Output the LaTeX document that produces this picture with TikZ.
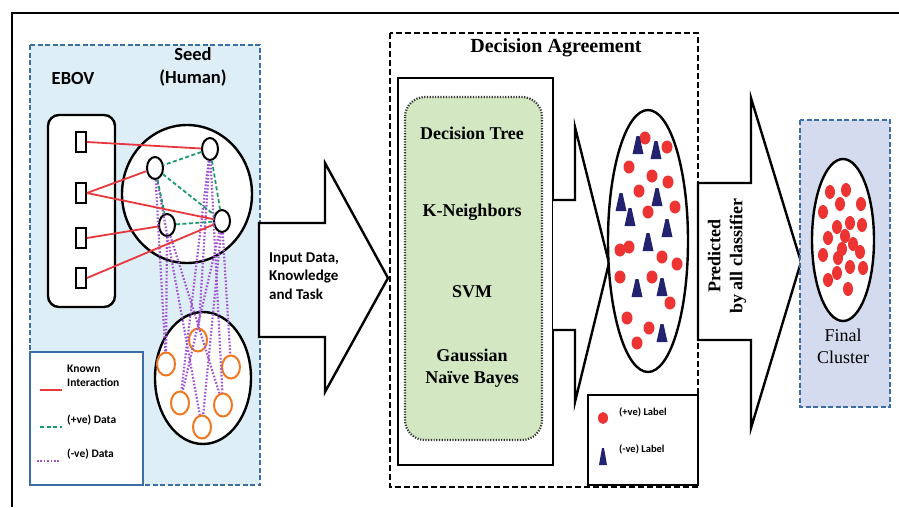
\documentclass[tikz,border=0pt]{standalone}
\usepackage{fontspec}
\setmainfont{Liberation Serif}
\newfontfamily\calfont{Carlito}
\usetikzlibrary{shapes.geometric}
\definecolor{bluefill}{HTML}{DDEEF6}
\definecolor{blueedge}{HTML}{3A6EA5}
\definecolor{finalfill}{HTML}{D4DBEE}
\definecolor{greenfill}{HTML}{D2E7C2}
\definecolor{redline}{HTML}{E8383D}
\definecolor{greenline}{HTML}{1A9A6A}
\definecolor{purpline}{HTML}{A052D0}
\definecolor{orangec}{HTML}{F07820}
\definecolor{reddot}{HTML}{EE3333}
\definecolor{navytri}{HTML}{22226E}
\begin{document}
\begin{tikzpicture}[x=1pt,y=-1pt,
  blk/.style={draw=black,line width=2.4pt},
  hnode/.style={draw=black,line width=2pt,fill=white,ellipse,minimum width=16pt,minimum height=22pt,inner sep=0pt},
  onode/.style={draw=orangec,line width=2pt,ellipse,minimum width=18pt,minimum height=23pt,inner sep=0pt},
  rnode/.style={draw=black,line width=1.8pt,fill=white,minimum width=10pt,minimum height=20pt,inner sep=0pt},
  known/.style={draw=redline,line width=1.8pt},
  posd/.style={draw=greenline,line width=1.8pt,dash pattern=on 4pt off 2.5pt},
  negd/.style={draw=purpline,line width=2.2pt,dash pattern=on 1.6pt off 1.8pt},
  sanslbl/.style={font=\calfont\bfseries\fontsize{18.5}{23}\selectfont,align=center,inner sep=0pt},
  smalllbl/.style={font=\calfont\bfseries\fontsize{11.5}{14}\selectfont,align=left,inner sep=0pt,anchor=west},
  clf/.style={font=\bfseries\fontsize{18}{22}\selectfont,align=center,inner sep=0pt},
  dot/.style={fill=reddot},
]
\useasboundingbox (0,0) rectangle (899,507);
\fill[white] (0,0) rectangle (899,507);
% outer frame
\draw[line width=2.4pt] (12,507) -- (12,13) -- (899,13);

% ---------- left panel ----------
\draw[fill=bluefill,draw=blueedge,line width=1.8pt,dash pattern=on 5pt off 2.5pt] (30,45) rectangle (260,485);
\node[sanslbl] (ebov) at (73,78) {EBOV};
\node[sanslbl] (seed) at (193,67) {Seed\\(Human)};
\draw[blk,fill=white,rounded corners=11pt] (48,115) rectangle (115,307);
\draw[blk,fill=white] (187,194) ellipse [x radius=65pt, y radius=69pt];
\draw[blk,fill=white] (203,378) ellipse [x radius=48pt, y radius=66pt];

\coordinate (ha) at (210,149);
\coordinate (hb) at (155,168);
\coordinate (hc) at (167,225);
\coordinate (hd) at (222,221);
\node[rnode] (r1) at (81,142) {};
\node[rnode] (r2) at (81,193) {};
\node[rnode] (r3) at (81,238) {};
\node[rnode] (r4) at (81,278) {};
\node[onode] (o1) at (198,340) {};
\node[onode] (o2) at (166,364) {};
\node[onode] (o3) at (231,367) {};
\node[onode] (o4) at (180,403) {};
\node[onode] (o5) at (223,405) {};
\node[onode] (o6) at (202,427) {};
\node[hnode] (A) at (ha) {};
\node[hnode] (B) at (hb) {};
\node[hnode] (C) at (hc) {};
\node[hnode] (D) at (hd) {};
% negative data
\draw[negd] (B) -- (o2);
\draw[negd] (B) -- (o6);
\draw[negd] (A) -- (o1);
\draw[negd] (A) -- (o5);
\draw[negd] (A) -- (o4);
\draw[negd] (C) -- (o2);
\draw[negd] (C) -- (o5);
\draw[negd] (D) -- (o3);
\draw[negd] (D) -- (o4);
\draw[negd] (D) -- (o6);
% positive data
\draw[posd] (A) -- (B);
\draw[posd] (A) -- (D);
\draw[posd] (B) -- (C);
\draw[posd] (B) -- (D);
\draw[posd] (C) -- (D);
% known interactions
\draw[known] (r1.east) -- (A);
\draw[known] (r2.east) -- (B);
\draw[known] (r2.east) -- (D);
\draw[known] (r3.east) -- (C);
\draw[known] (r4.east) -- (D);

% legend
\draw[fill=white,draw=blueedge,line width=1.6pt] (30,352) rectangle (143,485);
\draw[known] (40,390) -- (62,390);
\draw[posd] (40,427) -- (62,427);
\draw[negd] (37,461) -- (60,461);
\node[smalllbl] (lk) at (67,376) {Known\\Interaction};
\node[smalllbl] (lp) at (67,420) {(+ve) Data};
\node[smalllbl] (ln) at (67,454) {(-ve) Data};

% ---------- arrow 1 ----------
\draw[blk,fill=white,line join=miter] (259,223) -- (325,223) -- (325,163) -- (388,278) -- (325,392) -- (325,337) -- (259,337) -- cycle;
\node[font=\calfont\bfseries\fontsize{15}{18.5}\selectfont,align=left,anchor=west,inner sep=0pt] (inp) at (269,276) {Input Data,\\Knowledge\\and Task};

% ---------- decision agreement ----------
\draw[line width=2.2pt,dash pattern=on 6pt off 3pt] (390,33) rectangle (698,487);
\node[font=\bfseries\fontsize{20}{24}\selectfont,inner sep=0pt] (title) at (556,48) {Decision Agreement};
\draw[blk,fill=white] (398,78) rectangle (553,465);
\draw[fill=greenfill,draw=black!80,line width=2.2pt,dash pattern=on 1.2pt off 1.5pt,rounded corners=20pt] (405,97) rectangle (542,440);
\node[clf] (dt) at (472,133) {Decision Tree};
\node[clf] (kn) at (472,212) {K-Neighbors};
\node[clf] (svm) at (472,292) {SVM};
\node[clf] (gnb) at (472,368) {Gaussian\\Naïve Bayes};

% arrow 2
\draw[blk,fill=white,line join=miter] (553,200) -- (575,200) -- (575,127) -- (609,263) -- (575,402) -- (575,330) -- (553,330);
% dots ellipse
\draw[blk,fill=white] (648,241) ellipse [x radius=40pt, y radius=131pt];
\foreach \p in {(645,138),(667,147),(629,167),(652,176),(668,182),(639,191),(675,207),(648,212),(620,250),(629,247),(662,257),(677,264),(620,277),(652,277),(670,303),(627,318),(649,328),(637,343)}
  \fill[dot] \p ellipse [x radius=5.5pt, y radius=6.5pt];
\foreach \p in {(638,145),(656,150),(621,202),(657,197),(630,217),(667,228),(648,242),(637,288),(662,287),(662,333)}
  \fill[navytri] \p ++(-1.5,-9) -- ++(3,0) -- ++(4,18) -- ++(-11,0) -- cycle;

% label legend
\draw[blk,fill=white] (588,395) rectangle (698,485);
\fill[dot] (603,418) ellipse [x radius=5pt, y radius=6pt];
\fill[navytri] (602,448) -- (604,448) -- (607,465) -- (599,465) -- cycle;
\node[smalllbl,font=\calfont\bfseries\fontsize{10.5}{13}\selectfont] (lpos) at (619,412) {(+ve) Label};
\node[smalllbl,font=\calfont\bfseries\fontsize{10.5}{13}\selectfont] (lneg) at (619,449) {(-ve) Label};

% arrow 3
\draw[blk,fill=white,line join=miter] (698,183) -- (751,183) -- (751,98) -- (801,262) -- (751,428) -- (751,340) -- (698,340) -- cycle;
\node[clf,rotate=90] (pred) at (727,256) {Predicted\\by all classifier};

% ---------- final cluster ----------
\draw[fill=finalfill,draw=blueedge,line width=1.8pt,dash pattern=on 5pt off 2.5pt] (800,120) rectangle (890,407);
\draw[blk,fill=white] (843,240) ellipse [x radius=31pt, y radius=81pt];
\foreach \p in {(830,192),(846,190),(840,204),(823,212),(861,204),(837,227),(850,223),(862,225),(828,238),(845,236),(842,249),(853,244),(823,255),(860,252),(838,258),(837,273),(850,267),(863,268),(828,280),(848,289)}
  \fill[dot] \p ellipse [x radius=5pt, y radius=7pt];
\node[font=\fontsize{18}{22}\selectfont,align=center,inner sep=0pt] (fc) at (843,346) {Final\\Cluster};
\end{tikzpicture}
\end{document}
